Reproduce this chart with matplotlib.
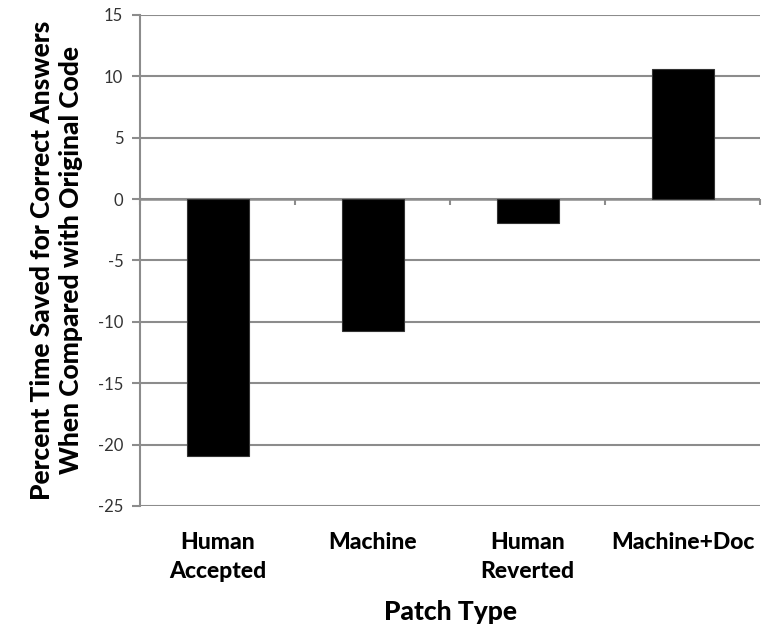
import matplotlib
matplotlib.use("Agg")
import matplotlib.pyplot as plt
import numpy as np

categories = ["Human\nAccepted", "Machine", "Human\nReverted", "Machine+Doc"]
values = [-20.9, -10.75, -1.95, 10.6]
y_ticks = [15, 10, 5, 0, -5, -10, -15, -20, -25]

plt.rcParams['font.family'] = ['Lato', 'DejaVu Sans']

fig = plt.figure(figsize=(7.64, 6.27), dpi=100)
ax = fig.add_axes([140/764, 1-506/627, 620/764, 491/627])

x = np.arange(len(categories))
ax.bar(x, values, width=0.4, color='black', edgecolor='#333333', linewidth=0.8, zorder=3)

ax.set_ylim(-25, 15)
ax.set_xlim(-0.5, len(categories) - 0.5)
ax.set_yticks(y_ticks)
ax.set_yticklabels([str(v) for v in y_ticks], fontsize=12, color='#333333')
ax.yaxis.grid(True, color='#8c8c8c', linewidth=1.5, zorder=0)
ax.set_axisbelow(True)

ax.set_xticks(x)
ax.set_xticklabels(categories, fontsize=16.5, fontweight='black', color='black', linespacing=1.45)
ax.tick_params(axis='x', length=0, pad=19)
ax.tick_params(axis='y', length=6, width=1.5, color='#8c8c8c', pad=6)

for s in ['top', 'right', 'bottom']:
    ax.spines[s].set_visible(False)
ax.spines['left'].set_color('#8c8c8c')
ax.spines['left'].set_linewidth(1.5)

# zero axis line with category boundary ticks
ax.axhline(0, color='#8c8c8c', linewidth=1.8, zorder=2)
bounds = np.arange(len(categories) + 1) - 0.5
ax.vlines(bounds, -0.45, 0, color='#8c8c8c', linewidth=1.5, zorder=2, clip_on=False)

ax.set_ylabel("Percent Time Saved for Correct Answers\nWhen Compared with Original Code",
              fontsize=19, fontweight='black', labelpad=11, linespacing=1.25)
ax.set_xlabel("Patch Type", fontsize=19, fontweight='black', labelpad=13)

fig.savefig("out.png", dpi=100)
